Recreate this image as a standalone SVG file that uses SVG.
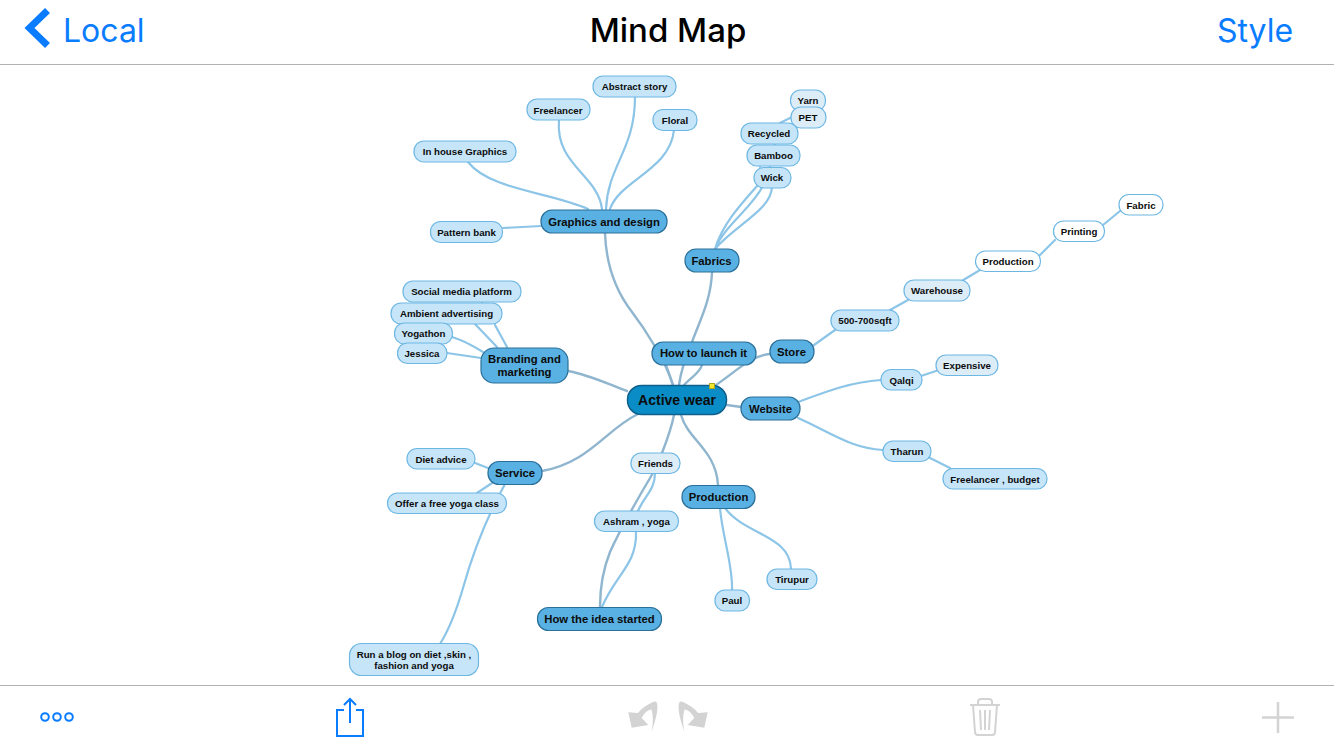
<svg xmlns="http://www.w3.org/2000/svg" width="1334" height="750" viewBox="0 0 1334 750">
<style>
text{font-family:"Liberation Sans",Arial,sans-serif;font-weight:700;fill:#0c0c0c;text-anchor:middle}
.root rect{fill:#0a8dc6;stroke:#0f5f8c;stroke-width:1.5}
.root text{font-size:14px}
.l1 rect{fill:#59b1e3;stroke:#2b7099;stroke-width:1.2}
.l1 text{font-size:11.300px}
.l2 rect{fill:#c6e5f8;stroke:#6db7e3;stroke-width:1.2}
.l2 text,.l3 text,.l4 text{font-size:9.700px}
.l3 rect{fill:#dcedf8;stroke:#6db7e3;stroke-width:1.2}
.l4 rect{fill:#fff;stroke:#6db7e3;stroke-width:1.2}
#connectors path{fill:none;stroke-linecap:round}
.d{stroke:#8fb5cf;stroke-width:2.4}
.m{stroke:#8cc5e7;stroke-width:2.2}
.ic{fill:none;stroke:#0a7cff;stroke-width:2}
.gr{fill:none;stroke:#d3d3d3;stroke-width:2}
</style>
<rect width="1334" height="750" fill="#fff"/>
<g id="chrome">
<path d="M0 64.500H1334M0 685.500H1334" stroke="#b2b2b2" stroke-width="1" fill="none"/>
<path d="M47.500 10.500L29.500 28L47.500 45.500" fill="none" stroke="#0a7cff" stroke-width="7"/>
<text x="63" y="42" style="text-anchor:start;fill:#0a7cff;font-family:Inter,sans-serif;font-weight:400;font-size:32px">Local</text>
<text x="668" y="42" style="fill:#000;font-family:Inter,sans-serif;font-weight:500;font-size:33px">Mind Map</text>
<text x="1255" y="42" style="fill:#0a7cff;font-family:Inter,sans-serif;font-weight:400;font-size:32px">Style</text>
<circle class="ic" cx="45" cy="717" r="3.800"/><circle class="ic" cx="57" cy="717" r="3.800"/><circle class="ic" cx="69" cy="717" r="3.800"/>
<path class="ic" d="M344 710H337V736H363V710H356M350 723V699M344 705L350 699L356 705"/>
<path fill="#d3d3d3" d="M651.700 731.700C655 722 658 712 657.300 705C657 701 655 701 652 702.500C646 705 641 709 638 713L628.300 712.300L631.700 727.700L648.300 725L641.700 718C644 713 648 710 651.500 709.500C653.500 716 653 724 651.700 731.700Z"/>
<path fill="#d3d3d3" d="M684.300 731.700C681 722 678 712 678.700 705C679 701 681 701 684 702.500C690 705 695 709 698 713L707.700 712.300L704.300 727.700L687.700 725L694.300 718C692 713 688 710 684.500 709.500C682.500 716 683 724 684.300 731.700Z"/>
<path class="gr" d="M970 705H1000M978 705V702C978 700 979 699 981 699H989C991 699 992 700 992 702V705M973 705L975 732C975 734 976 735 978 735H992C994 735 995 734 995 732L997 705M980 710L981 730M985 710V730M990 710L989 730"/>
<path d="M1278 702V733M1262 717.500H1294" stroke="#d3d3d3" stroke-width="2.500" fill="none"/>
</g>
<g id="connectors">
<path class="d" d="M605 233C606 262 615 290 632 312C645 329 665 360 673 385"/>
<path class="d" d="M712 272C711 300 700 320 692 342C686 356 681 370 679 385"/>
<path class="d" d="M666 365L673 385M702 365C700 373 690 378 684 385"/>
<path class="d" d="M770 354C750 356 738 370 716 385"/>
<path class="d" d="M568 371C590 375 610 385 627 391"/>
<path class="d" d="M727 405L741 407"/>
<path class="d" d="M542 471C590 462 605 430 638 414"/>
<path class="d" d="M674 415C671 430 667 440 662 453"/>
<path class="d" d="M681 415C688 440 716 450 718 485"/>
<path class="d" d="M653 473C640 495 622 525 610 552C602 572 600 590 600 607"/>
<path class="m" d="M655 473C655 490 645 495 638 511"/>
<path class="m" d="M636 532C637 565 615 575 602 607"/>
<path class="m" d="M720 508C722 535 733 565 732 590"/>
<path class="m" d="M725 508C745 535 790 535 791 569"/>
<path class="m" d="M798 402C825 392 850 382 881 380M921 376L936 371"/>
<path class="m" d="M798 418C830 432 850 448 883 450M928 457L950 468"/>
<path class="m" d="M814 345L835 330M890 310L908 300M960 282L980 270M1040 255L1055 240M1103 225L1120 211"/>
<path class="m" d="M715 249C722 225 740 205 757 186M715 249C725 225 750 210 763 186M715 249C735 225 772 210 772 186"/>
<path class="m" d="M775 145V140M760 167V163M770 167V163M780 123L792 117"/>
<path class="m" d="M482 300V306M495 325L507 347M475 324L497 347M452 337C465 341 475 347 483 352M447 353L481 358"/>
<path class="m" d="M475 463L488 468M477 493L492 483"/>
<path class="m" d="M505 484C488 515 475 545 463 588C456 612 450 628 440 644"/>
<path class="m" d="M503 228L541 226"/>
<path class="m" d="M468 162C490 190 550 192 588 209"/>
<path class="m" d="M559 120C555 165 598 175 602 209"/>
<path class="m" d="M635 97C635 150 608 165 606 209"/>
<path class="m" d="M674 130C670 170 620 180 610 209"/>
</g>
<g id="node-graphics" class="l1"><rect x="541" y="210" width="126" height="23" rx="11"/><text x="604" y="226">Graphics and design</text></g>
<g id="node-abstract" class="l2"><rect x="593" y="76" width="83" height="21" rx="10"/><text x="634.500" y="90">Abstract story</text></g>
<g id="node-freelancer" class="l2"><rect x="527" y="99" width="63" height="21" rx="10"/><text x="558" y="114">Freelancer</text></g>
<g id="node-floral" class="l2"><rect x="653" y="109.500" width="44" height="21" rx="10"/><text x="675" y="124">Floral</text></g>
<g id="node-inhouse" class="l2"><rect x="414" y="141" width="102" height="21" rx="10"/><text x="465" y="155">In house Graphics</text></g>
<g id="node-pattern" class="l2"><rect x="430.500" y="221.500" width="72" height="21" rx="10"/><text x="466.500" y="236">Pattern bank</text></g>
<g id="node-fabrics" class="l1"><rect x="685" y="249" width="54" height="23" rx="11"/><text x="711.500" y="265">Fabrics</text></g>
<g id="node-yarn" class="l3"><rect x="790.500" y="90" width="35" height="21" rx="10"/><text x="808" y="104">Yarn</text></g>
<g id="node-pet" class="l3"><rect x="791" y="107" width="35" height="21" rx="10"/><text x="808" y="121">PET</text></g>
<g id="node-recycled" class="l2"><rect x="741" y="123" width="57" height="21" rx="10"/><text x="769" y="137">Recycled</text></g>
<g id="node-bamboo" class="l2"><rect x="747" y="145" width="53" height="21" rx="10"/><text x="773.500" y="159">Bamboo</text></g>
<g id="node-wick" class="l2"><rect x="754" y="167.500" width="37" height="20.500" rx="10"/><text x="772" y="181">Wick</text></g>
<g id="node-branding" class="l1"><rect x="481" y="348" width="87" height="35" rx="13"/><text x="524.500" y="363">Branding and</text><text x="524.500" y="376">marketing</text></g>
<g id="node-social" class="l2"><rect x="403" y="281" width="118" height="21" rx="10"/><text x="461.500" y="295">Social media platform</text></g>
<g id="node-ambient" class="l2"><rect x="391" y="303" width="111" height="21" rx="10"/><text x="446.500" y="317">Ambient advertising</text></g>
<g id="node-yogathon" class="l2"><rect x="394.500" y="323" width="58" height="21" rx="10"/><text x="423.500" y="337">Yogathon</text></g>
<g id="node-jessica" class="l2"><rect x="397.500" y="343" width="49.500" height="20.500" rx="10"/><text x="422" y="357">Jessica</text></g>
<g id="node-launch" class="l1"><rect x="652" y="342" width="104" height="23" rx="11"/><text x="703.500" y="357">How to launch it</text></g>
<g id="node-store" class="l1"><rect x="770" y="340" width="44" height="23" rx="11"/><text x="791.500" y="356">Store</text></g>
<g id="node-500" class="l2"><rect x="831" y="310" width="68" height="21" rx="10"/><text x="865" y="324">500-700sqft</text></g>
<g id="node-warehouse" class="l3"><rect x="904" y="280" width="66" height="21" rx="10"/><text x="937" y="294">Warehouse</text></g>
<g id="node-production2" class="l4"><rect x="975.500" y="251" width="65" height="20.500" rx="10"/><text x="1008" y="265">Production</text></g>
<g id="node-printing" class="l4"><rect x="1053.500" y="221" width="51" height="20.500" rx="10"/><text x="1079" y="235">Printing</text></g>
<g id="node-fabric" class="l4"><rect x="1119" y="194.500" width="44" height="20.500" rx="10"/><text x="1141" y="209">Fabric</text></g>
<g id="node-active" class="root"><rect x="627.500" y="385.500" width="99" height="29" rx="14"/><text x="677" y="405">Active wear</text></g>
<g id="node-marker"><rect x="709.500" y="383.500" width="5" height="5" fill="#f5e72e" stroke="#b0a61e" stroke-width="1"/></g>
<g id="node-website" class="l1"><rect x="741" y="397" width="59" height="23" rx="11"/><text x="770.500" y="413">Website</text></g>
<g id="node-qalqi" class="l2"><rect x="881" y="369.500" width="41" height="20.500" rx="10"/><text x="901.500" y="384">Qalqi</text></g>
<g id="node-expensive" class="l3"><rect x="936" y="355" width="62" height="20.500" rx="10"/><text x="967" y="369">Expensive</text></g>
<g id="node-tharun" class="l2"><rect x="883" y="441" width="48" height="20.500" rx="10"/><text x="907" y="455">Tharun</text></g>
<g id="node-freelancer2" class="l2"><rect x="943" y="468.500" width="104" height="20.500" rx="10"/><text x="995" y="482.500">Freelancer , budget</text></g>
<g id="node-service" class="l1"><rect x="488" y="461.500" width="54" height="23" rx="11"/><text x="515" y="477">Service</text></g>
<g id="node-diet" class="l2"><rect x="407" y="448.500" width="68" height="20.500" rx="10"/><text x="441" y="463">Diet advice</text></g>
<g id="node-offer" class="l2"><rect x="387.500" y="493" width="119" height="20.500" rx="10"/><text x="447" y="507">Offer a free yoga class</text></g>
<g id="node-blog" class="l2"><rect x="349.500" y="643.500" width="129" height="32" rx="12"/><text x="414" y="658">Run a blog on diet ,skin ,</text><text x="414" y="669">fashion and yoga</text></g>
<g id="node-friends" class="l3"><rect x="631" y="453" width="49" height="20.500" rx="10"/><text x="655.500" y="467">Friends</text></g>
<g id="node-ashram" class="l2"><rect x="594.500" y="511" width="84" height="20.500" rx="10"/><text x="636.500" y="525">Ashram , yoga</text></g>
<g id="node-idea" class="l1"><rect x="537.500" y="607.500" width="124" height="23" rx="11"/><text x="599.500" y="623">How the idea started</text></g>
<g id="node-production" class="l1"><rect x="682" y="485.500" width="73" height="23" rx="11"/><text x="718.500" y="501">Production</text></g>
<g id="node-paul" class="l2"><rect x="715" y="590" width="34.500" height="21" rx="10"/><text x="732" y="604">Paul</text></g>
<g id="node-tirupur" class="l2"><rect x="767" y="569" width="50" height="20.500" rx="10"/><text x="792" y="583">Tirupur</text></g>
</svg>
